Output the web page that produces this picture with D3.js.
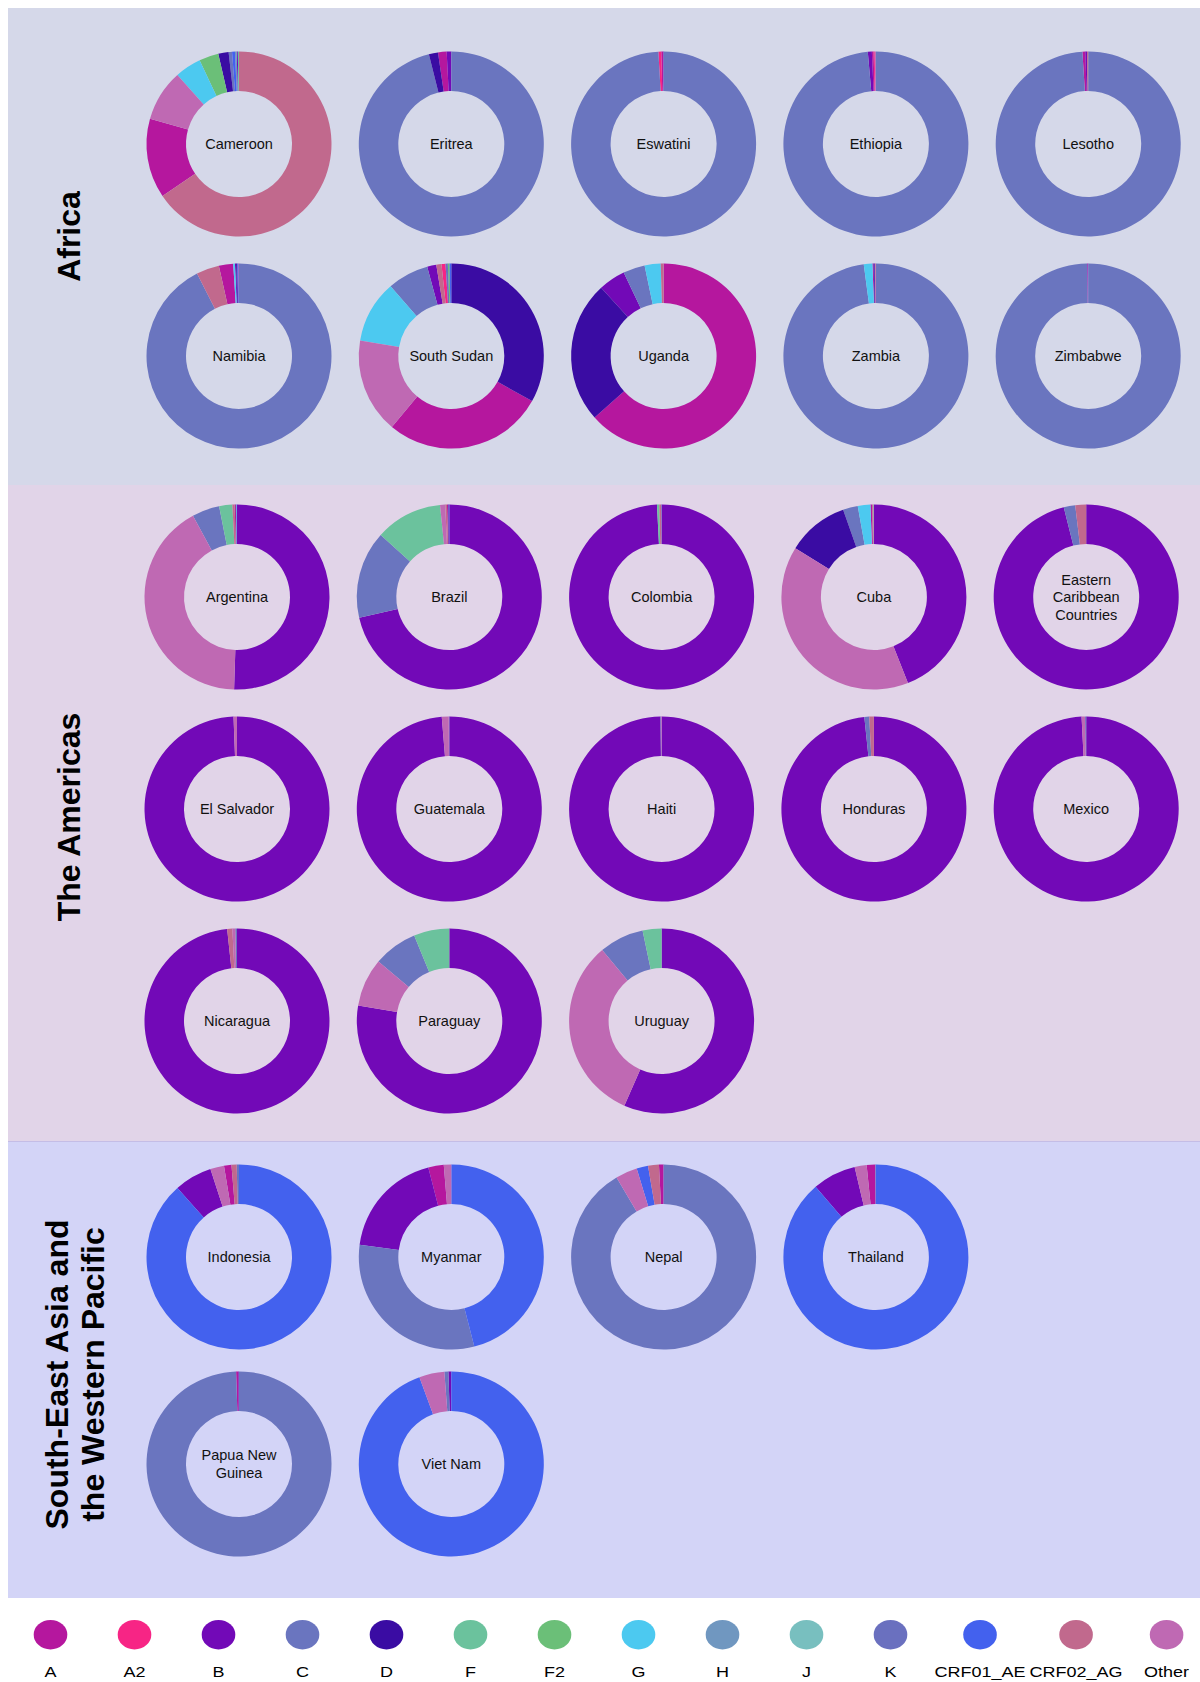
<!DOCTYPE html>
<html>
<head>
<meta charset="utf-8">
<script src="https://cdn.jsdelivr.net/npm/d3@7"></script>
<style>
    body { margin: 0; background: #fff; font-family: "Liberation Sans", Arial, sans-serif; }
</style>
</head>
<body>
<div id="root"></div>
<script>
// HIV subtypes, in legend order
const subtypes = ["A", "A2", "B", "C", "D", "F", "F2", "G", "H", "J", "K", "CRF01_AE", "CRF02_AG", "Other"];

const regionNames = ["Africa", "The Americas", "South-East Asia and the Western Pacific"];

// shares in % per country, same order as subtypes
//                 A    A2   B     C     D     F    F2   G     H    J  K    AE    AG    Other
const africaCountries = ["Cameroon", "Eritrea", "Eswatini", "Ethiopia", "Lesotho",
    "Namibia", "South Sudan", "Uganda", "Zambia", "Zimbabwe"];
const africaShares = [
    [13.9, 0,    0.2,  0.6,  1.8,  0.2, 3.4, 4.6,  0.3, 0, 0,   0.5,  65.5, 9.0],
    [1.5,  0,    0.8,  96.1, 1.6,  0,   0,   0,    0,   0, 0,   0,    0,    0],
    [0.3,  0.5,  0.1,  99.1, 0,    0,   0,   0,    0,   0, 0,   0,    0,    0],
    [0.3,  0.2,  0.7,  98.6, 0,    0,   0,   0,    0,   0, 0,   0,    0,    0.2],
    [0.5,  0,    0.3,  99.0, 0,    0,   0,   0,    0,   0, 0,   0,    0.2,  0],
    [2.5,  0.1,  0.2,  92.5, 0.2,  0,   0,   0.3,  0,   0, 0,   0.2,  4.0,  0],
    [28.0, 0.7,  1.6,  7.2,  33.1, 0,   0.3, 10.9, 0,   0, 0.4, 0.3,  0.9,  16.6],
    [63.4, 0,    4.7,  3.8,  24.8, 0,   0,   2.8,  0,   0, 0,   0,    0.5,  0],
    [0.2,  0.05, 0.1,  97.9, 0.15, 0,   0,   1.5,  0,   0, 0,   0,    0.1,  0],
    [0.1,  0,    0.1,  99.8, 0,    0,   0,   0,    0,   0, 0,   0,    0,    0]
];

const americasCountries = ["Argentina", "Brazil", "Colombia", "Cuba", "Eastern Caribbean Countries",
    "El Salvador", "Guatemala", "Haiti", "Honduras", "Mexico",
    "Nicaragua", "Paraguay", "Uruguay"];
const americasShares = [
    [0.2, 0, 50.5, 4.8,  0.1,   2.3,  0, 0.1, 0, 0, 0, 0,   0.4, 41.6],
    [0.2, 0, 71.4, 15.3, 0.1,   11.7, 0, 0,   0, 0, 0, 0.1, 0.3, 0.9],
    [0,   0, 99.2, 0.1,  0,     0.4,  0, 0,   0, 0, 0, 0,   0.3, 0],
    [0.3, 0, 44.0, 2.6,  10.75, 0.1,  0, 2.2, 0, 0, 0, 0,   0.2, 39.85],
    [0,   0, 96.1, 2.0,  0,     0,    0, 0,   0, 0, 0, 0,   1.9, 0],
    [0,   0, 99.4, 0,    0,     0,    0, 0,   0, 0, 0, 0,   0,   0.6],
    [0,   0, 98.7, 0.1,  0,     0,    0, 0,   0, 0, 0, 0,   0,   1.2],
    [0,   0, 99.8, 0.1,  0,     0,    0, 0,   0, 0, 0, 0,   0,   0.1],
    [0,   0, 98.35, 0.85, 0,    0,    0, 0,   0, 0, 0, 0,   0.8, 0],
    [0,   0, 99.2, 0.2,  0,     0,    0, 0,   0, 0, 0, 0,   0,   0.6],
    [0,   0, 98.3, 0.3,  0,     0,    0, 0,   0, 0, 0, 0,   0.9, 0.5],
    [0,   0, 77.7, 7.7,  0,     6.2,  0, 0,   0, 0, 0, 0,   0,   8.4],
    [0,   0, 56.6, 7.8,  0,     3.3,  0, 0,   0, 0, 0, 0,   0,   32.3]
];

const seAsiaCountries = ["Indonesia", "Myanmar", "Nepal", "Thailand", "Papua New Guinea", "Viet Nam"];
const seAsiaShares = [
    [1.3, 0, 6.6,  0.4,  0, 0, 0, 0, 0, 0, 0, 88.4, 0.9, 2.4],
    [2.7, 0, 18.9, 31.1, 0, 0, 0, 0, 0, 0, 0, 46.0, 0,   1.3],
    [0.8, 0, 0,    91.5, 0, 0, 0, 0, 0, 0, 0, 2.0,  1.9, 3.8],
    [1.5, 0, 7.6,  0.1,  0, 0, 0, 0, 0, 0, 0, 88.7, 0,   2.1],
    [0.4, 0, 0.1,  99.5, 0, 0, 0, 0, 0, 0, 0, 0,    0,   0],
    [0,   0, 0.5,  0.7,  0, 0, 0, 0, 0, 0, 0, 94.4, 0,   4.4]
];

const palette = ["#b5179e", "#f72585", "#7209b7", "#6a75bf", "#3a0ca3", "#6bc29d", "#6bbf78",
    "#4cc9f0", "#7097c0", "#78bfbf", "#6a70bf", "#4361ee", "#c1698d", "#bf69b3"];

// layout of each region band (screenshot-like grid)
const regionLayout = [
    { countries: africaCountries, shares: africaShares, top: 8, bottom: 485, x0: 239, y0: 144, rowStep: 212, perRow: 5, titleShift: -10, fill: "#d5d8e9" },
    { countries: americasCountries, shares: americasShares, top: 485, bottom: 1141, x0: 237, y0: 597, rowStep: 212, perRow: 5, titleShift: 4, fill: "#e1d4e8" },
    { countries: seAsiaCountries, shares: seAsiaShares, top: 1141, bottom: 1598, x0: 239, y0: 1257, rowStep: 207, perRow: 4, titleShift: 5, fill: "#d3d4f7" }
];

const width = 1200, height = 1682;
const colStep = 212.3;
const outerR = 92.5, innerR = 53;

const svg = d3.select("#root")
    .append("svg")
    .attr("width", width)
    .attr("height", height);

const color = d3.scaleOrdinal().domain(subtypes).range(palette);
const pie = d3.pie().value(d => d.value);   // default sort: descending
const arc = d3.arc().innerRadius(innerR).outerRadius(outerR);

// wrap a text into lines no wider than maxWidth
function wrapLines(textSel, words, maxWidth) {
    const lines = [];
    let line = [];
    const probe = textSel.append("tspan");
    words.forEach(w => {
        const tryLine = line.concat([w]);
        probe.text(tryLine.join(" "));
        if (probe.node().getComputedTextLength() > maxWidth && line.length) {
            lines.push(line.join(" "));
            line = [w];
        } else {
            line = tryLine;
        }
    });
    lines.push(line.join(" "));
    probe.remove();
    return lines;
}

regionLayout.forEach((reg, ri) => {
    const g = svg.append("g").attr("class", "region");

    g.append("rect")
        .attr("x", 8)
        .attr("y", reg.top)
        .attr("width", width - 8)
        .attr("height", reg.bottom - reg.top)
        .attr("fill", reg.fill);

    if (ri === 2) {
        g.append("line")
            .attr("x1", 8).attr("x2", width)
            .attr("y1", reg.top + 0.5).attr("y2", reg.top + 0.5)
            .attr("stroke", "#c4bde6")
            .attr("stroke-width", 1);
    }

    // region title, rotated
    const midY = (reg.top + reg.bottom) / 2 + reg.titleShift;
    const title = g.append("text")
        .attr("text-anchor", "middle")
        .attr("font-size", 32)
        .attr("font-weight", "bold")
        .attr("fill", "#000");
    const tLines = wrapLines(title, regionNames[ri].split(" "), 340);
    const n = tLines.length;
    title.attr("transform", `translate(${80 - (n - 1) * 12}, ${midY}) rotate(-90)`);
    tLines.forEach((t, i) => {
        title.append("tspan").attr("x", 0).attr("y", i * 36).text(t);
    });

    // donuts
    reg.countries.forEach((name, ci) => {
        const cx = reg.x0 + (ci % reg.perRow) * colStep;
        const cy = reg.y0 + Math.floor(ci / reg.perRow) * reg.rowStep;
        const data = subtypes
            .map((s, k) => ({ subtype: s, value: reg.shares[ci][k] }))
            .filter(d => d.value > 0);

        const donut = g.append("g")
            .attr("class", "donut")
            .attr("transform", `translate(${cx},${cy})`);

        donut.selectAll("path")
            .data(pie(data))
            .enter()
            .append("path")
                .attr("d", arc)
                .attr("fill", d => color(d.data.subtype));

        const label = donut.append("text")
            .attr("text-anchor", "middle")
            .attr("font-size", 14.5)
            .attr("fill", "#111");
        const lines = wrapLines(label, name.split(" "), 95);
        lines.forEach((t, i) => {
            label.append("tspan")
                .attr("x", 0)
                .attr("y", 5 + (i - (lines.length - 1) / 2) * 17.5)
                .text(t);
        });
    });
});

// Legend
const legendY = 1634.7, labelY = 1677, textScale = 1.2;
const legend = svg.append("g").attr("id", "legend");

const items = legend.selectAll("g.item")
    .data(subtypes)
    .enter()
    .append("g")
        .attr("class", "item");

items.append("text")
    .attr("text-anchor", "middle")
    .attr("font-size", 15)
    .attr("fill", "#000")
    .text(d => d);

// lay items out left to right, each at least 80px wide
let cursor = 10.5;
items.each(function(d) {
    const w = this.querySelector("text").getComputedTextLength() * textScale;
    const itemW = Math.max(80, w);
    const cx = cursor + itemW / 2;
    cursor += itemW + 4;
    const item = d3.select(this);
    item.select("text").attr("transform", `translate(${cx},${labelY}) scale(${textScale},1)`);
    item.insert("ellipse", "text")
        .attr("cx", cx)
        .attr("cy", legendY)
        .attr("rx", 16.8)
        .attr("ry", 14.7)
        .attr("fill", color(d));
});
</script>
</body>
</html>
